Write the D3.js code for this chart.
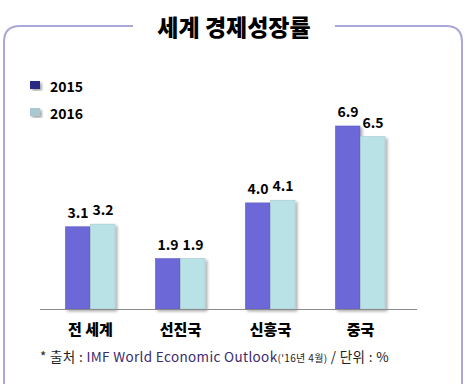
<!DOCTYPE html>
<html>
<head>
<meta charset="utf-8">
<script src="https://cdn.jsdelivr.net/npm/d3@7"></script>
<style>
	body { margin: 0; background: #fff; }
	svg text { font-family: "Noto Sans CJK KR", "Noto Sans", sans-serif; }
</style>
</head>
<body>
<div id="chart"></div>
<script>
// Data
const categories = ["전 세계", "선진국", "신흥국", "중국"];
const seriesNames = ["2015", "2016"];
const values2015 = [3.1, 1.9, 4.0, 6.9];
const values2016 = [3.2, 1.9, 4.1, 6.5];

const width = 466, height = 384;
const baseY = 309;
const colors = { "2015": "#6c68d8", "2016": "#b9e2e6" };
const legendColors = { "2015": "#2b2c86", "2016": "#a9c8d4" };

const svg = d3.select("#chart").append("svg")
	.attr("width", width).attr("height", height);

const defs = svg.append("defs");
defs.append("filter").attr("id", "shadow")
	.attr("x", "-20%").attr("y", "-10%").attr("width", "150%").attr("height", "130%")
	.append("feDropShadow")
	.attr("dx", 2).attr("dy", 2).attr("stdDeviation", 1.5)
	.attr("flood-color", "#000").attr("flood-opacity", 0.35);

// Frame with a gap for the title
const frameColor = "#a9a8d6";
svg.append("path")
	.attr("d", "M133,26 H20 Q4,26 4,42 V400 M462,400 V42 Q462,26 446,26 H335")
	.attr("fill", "none").attr("stroke", frameColor).attr("stroke-width", 2);

svg.append("text")
	.attr("x", 234).attr("y", 36)
	.attr("text-anchor", "middle")
	.attr("font-size", 23).attr("font-weight", 900)
	.text("세계 경제성장률");

// Scales
const x0 = d3.scaleBand(categories, [45.5, 405.5]);
const x1 = d3.scaleBand(seriesNames, [20, 70]);
const y = d3.scaleLinear([0, 6.9], [baseY, 126]);

const data = categories.map((c, i) => ({
	cat: c,
	vals: [
		{ key: "2015", v: values2015[i] },
		{ key: "2016", v: values2016[i] }
	]
}));

const groups = svg.selectAll("g.group")
	.data(data)
	.join("g")
	.classed("group", true)
	.attr("transform", (d) => `translate(${x0(d.cat)},0)`);

groups.selectAll("rect")
	.data((d) => d.vals)
	.join("rect")
	.attr("x", (d) => x1(d.key))
	.attr("y", (d) => y(d.v))
	.attr("width", x1.bandwidth() - 0.5)
	.attr("height", (d) => baseY - y(d.v))
	.attr("fill", (d) => colors[d.key])
	.attr("stroke", (d) => d3.color(colors[d.key]).darker(0.3))
	.attr("stroke-width", 0.6)
	.attr("filter", "url(#shadow)");

groups.selectAll("text.val")
	.data((d) => d.vals)
	.join("text")
	.classed("val", true)
	.attr("x", (d) => x1(d.key) + x1.bandwidth() / 2)
	.attr("y", (d) => y(d.v) - 9)
	.attr("text-anchor", "middle")
	.attr("font-size", 14).attr("font-weight", 700)
	.text((d) => d.v.toFixed(1));

// Axis line and category labels
const axis = svg.append("g").attr("transform", `translate(0,${baseY})`)
	.call(d3.axisBottom(x0).tickSize(0).tickPadding(15));
axis.select(".domain").attr("stroke", "#8a8a8a").attr("d", "M40,0.5H417");
axis.selectAll("text")
	.attr("font-size", 15).attr("font-weight", 900).attr("fill", "#000")
	.attr("font-family", "'Noto Sans CJK KR', sans-serif");

// Legend
const legend = svg.selectAll("g.legend")
	.data(seriesNames)
	.join("g")
	.classed("legend", true)
	.attr("transform", (d, i) => `translate(30,${81 + i * 27})`);
legend.append("rect")
	.attr("width", 10).attr("height", 8)
	.attr("fill", (d) => legendColors[d])
	.attr("filter", "url(#shadow)");
legend.append("text")
	.attr("x", 20).attr("y", 11)
	.attr("font-size", 14).attr("font-weight", 700)
	.text((d) => d);

// Footnote
const note = svg.append("text")
	.attr("x", 40).attr("y", 362)
	.attr("font-size", 13.5).attr("letter-spacing", 0.35);
note.append("tspan").attr("fill", "#222").text("* 출처 : ");
note.append("tspan").attr("fill", "#3b2a6e").text("IMF World Economic Outlook");
note.append("tspan").attr("fill", "#222").attr("font-size", 10).text("('16년 4월)");
note.append("tspan").attr("fill", "#222").text(" / 단위 : %");
</script>
</body>
</html>
